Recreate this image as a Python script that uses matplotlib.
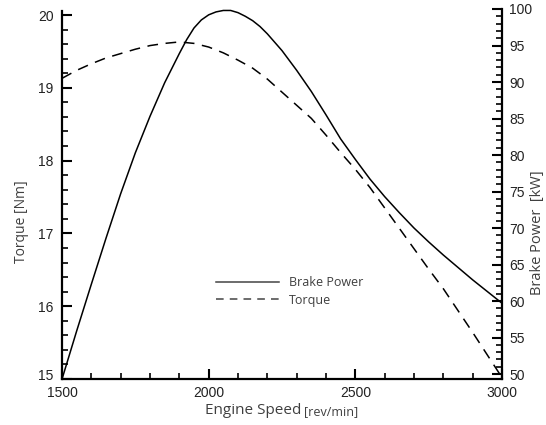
import matplotlib
matplotlib.use("Agg")
import matplotlib.pyplot as plt
from matplotlib.ticker import MultipleLocator
from matplotlib.lines import Line2D
from matplotlib.transforms import ScaledTranslation

# Data
rpm_power = [1500, 1550, 1600, 1650, 1700, 1750, 1800, 1850, 1900, 1925, 1950, 1975, 2000,
             2025, 2050, 2075, 2100, 2125, 2150, 2175, 2200, 2250, 2300, 2350, 2400, 2450,
             2500, 2550, 2600, 2650, 2700, 2750, 2800, 2850, 2900, 2950, 3000]
brake_power = [49.3, 55.9, 62.3, 68.6, 74.7, 80.3, 85.3, 89.9, 93.9, 95.8, 97.4, 98.5, 99.2,
               99.6, 99.8, 99.8, 99.5, 99.0, 98.4, 97.6, 96.6, 94.3, 91.6, 88.7, 85.5, 82.2,
               79.4, 76.7, 74.3, 72.1, 70.0, 68.1, 66.3, 64.6, 62.9, 61.3, 59.7]
rpm_torque = [1500, 1550, 1600, 1650, 1700, 1750, 1800, 1850, 1900, 1950, 2000,
              2050, 2100, 2150, 2200, 2250, 2300, 2350, 2400, 2450, 2500,
              2550, 2600, 2650, 2700, 2750, 2800, 2850, 2900, 2950, 3000]
torque = [19.13, 19.24, 19.33, 19.41, 19.47, 19.53, 19.58, 19.61, 19.63, 19.61, 19.56,
          19.48, 19.38, 19.27, 19.12, 18.94, 18.76, 18.58, 18.35, 18.11, 17.88,
          17.63, 17.35, 17.07, 16.79, 16.51, 16.24, 15.94, 15.64, 15.33, 15.02]
x_ticks = [1500, 2000, 2500, 3000]
torque_ticks = [15, 16, 17, 18, 19, 20]
power_ticks = [50, 55, 60, 65, 70, 75, 80, 85, 90, 95, 100]

tick_font = "Liberation Sans"
label_font = "Open Sans"
label_color = "#3f3f3f"

fig = plt.figure(figsize=(5.46, 4.25), dpi=100)
W, H = 546, 425
left, right, bottom = 62, 502, 379
top_left, top_right = 11, 9
ax = fig.add_axes([left / W, 1 - bottom / H, (right - left) / W, (bottom - top_left) / H])
ax2 = fig.add_axes([left / W, 1 - bottom / H, (right - left) / W, (bottom - top_right) / H],
                   sharex=ax)
ax2.patch.set_visible(False)

dash = (0, (7, 5))
ax.plot(rpm_torque, torque, color="black", lw=1.1, linestyle=dash, clip_on=False)
ax2.plot(rpm_power, brake_power, color="black", lw=1.1, clip_on=False)

ax.set_xlim(1500, 3000)
ax.set_ylim(15, 20.055)
ax2.set_ylim(49.32, 100)

ax.set_xticks(x_ticks)
ax.set_yticks(torque_ticks)
ax2.set_yticks(power_ticks)
ax.xaxis.set_minor_locator(MultipleLocator(100))
ax.yaxis.set_minor_locator(MultipleLocator(0.2))
ax2.yaxis.set_minor_locator(MultipleLocator(1))

for a in (ax, ax2):
    for s in a.spines.values():
        s.set_visible(False)
ax.spines["left"].set_visible(True)
ax.spines["bottom"].set_visible(True)
ax2.spines["right"].set_visible(True)
for s in (ax.spines["left"], ax.spines["bottom"], ax2.spines["right"]):
    s.set_linewidth(1.6)

ax.tick_params(axis="both", which="major", direction="in", length=7, width=1.5,
               labelsize=10)
ax.tick_params(axis="both", which="minor", direction="in", length=4.5, width=1.2)
ax.tick_params(axis="y", which="both", right=False)
ax.tick_params(axis="x", which="both", top=False, pad=5)
ax.tick_params(axis="y", pad=6)

ax2.xaxis.set_visible(False)
ax2.yaxis.tick_right()
ax2.tick_params(axis="y", which="major", direction="in", length=7, width=1.5,
                labelsize=10, pad=5, left=False, right=True)
ax2.tick_params(axis="y", which="minor", direction="in", length=4.5, width=1.2,
                left=False, right=True)

fig.canvas.draw()
for lab in ax.get_xticklabels() + ax.get_yticklabels() + ax2.get_yticklabels():
    lab.set_fontfamily(tick_font)
    lab.set_color("#222222")

# lift the lowest torque label a little, as in the reference
shift_up = ScaledTranslation(0, 5 / 100, fig.dpi_scale_trans)
ax.get_yticklabels()[0].set_transform(ax.get_yticklabels()[0].get_transform() + shift_up)

# Axis labels
fig.text(22 / W, 1 - 222 / H, "Torque [Nm]", rotation=90, ha="center", va="center",
         fontsize=10, family=label_font, color=label_color)
fig.text(537 / W, 1 - 233 / H, "Brake Power  [kW]", rotation=90, ha="center", va="center",
         fontsize=10.5, family=label_font, color=label_color)
fig.text(301 / W, 1 - 411 / H, "Engine Speed", ha="right", va="center",
         fontsize=11, family=label_font, color=label_color)
fig.text(304 / W, 1 - 412 / H, "[rev/min]", ha="left", va="center",
         fontsize=9, family=label_font, color=label_color)

# Legend
handles = [Line2D([], [], color="#444444", lw=1.1),
           Line2D([], [], color="#444444", lw=1.1, linestyle=(0, (5, 4)))]
leg = ax.legend(handles, ["Brake Power", "Torque"], frameon=False,
                loc="upper left", bbox_to_anchor=(205 / W, 1 - 265 / H),
                bbox_transform=fig.transFigure,
                handlelength=5.0, handletextpad=0.8, labelspacing=0.35,
                prop={"family": label_font, "size": 9})
for t in leg.get_texts():
    t.set_color(label_color)

fig.savefig("out.png", dpi=100)
